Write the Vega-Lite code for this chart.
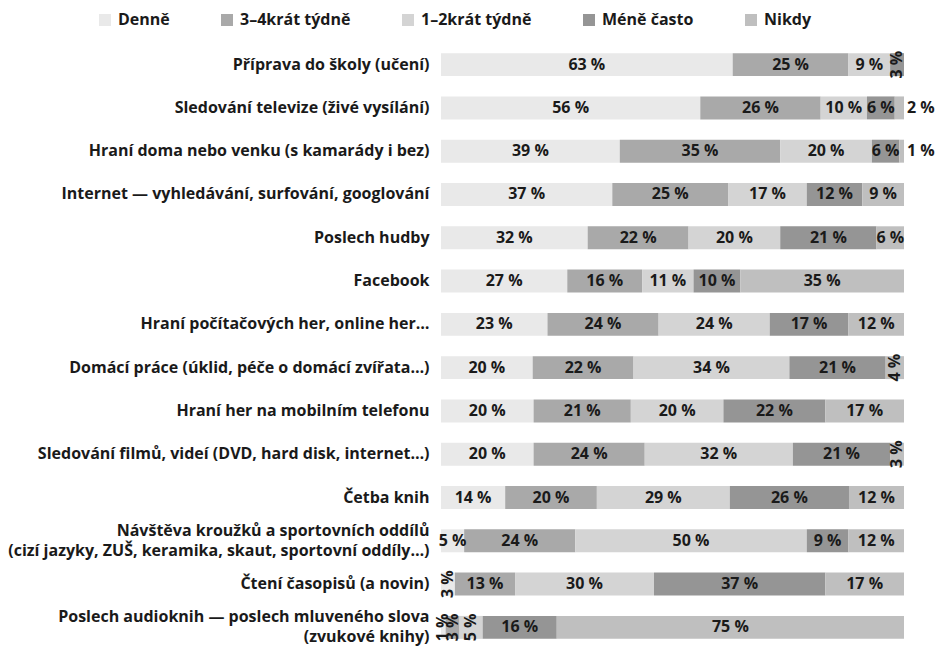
{
  "$schema": "https://vega.github.io/schema/vega-lite/v6.json",
  "autosize": "none",
  "width": 463,
  "height": 600,
  "padding": {"left": 441, "top": 46, "right": 32, "bottom": 1},
  "background": "white",
  "config": {
    "view": {"stroke": null},
    "font": "Open Sans",
    "text": {"font": "Open Sans", "fontWeight": "bold", "fontSize": 16, "color": "#1a1a1a"}
  },
  "data": {
    "values": [
      {"a": "Příprava do školy (učení)", "c": "Denně", "k": 1, "v": 63},
      {"a": "Příprava do školy (učení)", "c": "3–4krát týdně", "k": 2, "v": 25},
      {"a": "Příprava do školy (učení)", "c": "1–2krát týdně", "k": 3, "v": 9},
      {"a": "Příprava do školy (učení)", "c": "Méně často", "k": 4, "v": 3},
      {"a": "Příprava do školy (učení)", "c": "Nikdy", "k": 5, "v": 0},
      {"a": "Sledování televize (živé vysílání)", "c": "Denně", "k": 1, "v": 56},
      {"a": "Sledování televize (živé vysílání)", "c": "3–4krát týdně", "k": 2, "v": 26},
      {"a": "Sledování televize (živé vysílání)", "c": "1–2krát týdně", "k": 3, "v": 10},
      {"a": "Sledování televize (živé vysílání)", "c": "Méně často", "k": 4, "v": 6},
      {"a": "Sledování televize (živé vysílání)", "c": "Nikdy", "k": 5, "v": 2},
      {"a": "Hraní doma nebo venku (s kamarády i bez)", "c": "Denně", "k": 1, "v": 39},
      {"a": "Hraní doma nebo venku (s kamarády i bez)", "c": "3–4krát týdně", "k": 2, "v": 35},
      {"a": "Hraní doma nebo venku (s kamarády i bez)", "c": "1–2krát týdně", "k": 3, "v": 20},
      {"a": "Hraní doma nebo venku (s kamarády i bez)", "c": "Méně často", "k": 4, "v": 6},
      {"a": "Hraní doma nebo venku (s kamarády i bez)", "c": "Nikdy", "k": 5, "v": 1},
      {"a": "Internet — vyhledávání, surfování, googlování", "c": "Denně", "k": 1, "v": 37},
      {"a": "Internet — vyhledávání, surfování, googlování", "c": "3–4krát týdně", "k": 2, "v": 25},
      {"a": "Internet — vyhledávání, surfování, googlování", "c": "1–2krát týdně", "k": 3, "v": 17},
      {"a": "Internet — vyhledávání, surfování, googlování", "c": "Méně často", "k": 4, "v": 12},
      {"a": "Internet — vyhledávání, surfování, googlování", "c": "Nikdy", "k": 5, "v": 9},
      {"a": "Poslech hudby", "c": "Denně", "k": 1, "v": 32},
      {"a": "Poslech hudby", "c": "3–4krát týdně", "k": 2, "v": 22},
      {"a": "Poslech hudby", "c": "1–2krát týdně", "k": 3, "v": 20},
      {"a": "Poslech hudby", "c": "Méně často", "k": 4, "v": 21},
      {"a": "Poslech hudby", "c": "Nikdy", "k": 5, "v": 6},
      {"a": "Facebook", "c": "Denně", "k": 1, "v": 27},
      {"a": "Facebook", "c": "3–4krát týdně", "k": 2, "v": 16},
      {"a": "Facebook", "c": "1–2krát týdně", "k": 3, "v": 11},
      {"a": "Facebook", "c": "Méně často", "k": 4, "v": 10},
      {"a": "Facebook", "c": "Nikdy", "k": 5, "v": 35},
      {"a": "Hraní počítačových her, online her…", "c": "Denně", "k": 1, "v": 23},
      {"a": "Hraní počítačových her, online her…", "c": "3–4krát týdně", "k": 2, "v": 24},
      {"a": "Hraní počítačových her, online her…", "c": "1–2krát týdně", "k": 3, "v": 24},
      {"a": "Hraní počítačových her, online her…", "c": "Méně často", "k": 4, "v": 17},
      {"a": "Hraní počítačových her, online her…", "c": "Nikdy", "k": 5, "v": 12},
      {"a": "Domácí práce (úklid, péče o domácí zvířata…)", "c": "Denně", "k": 1, "v": 20},
      {"a": "Domácí práce (úklid, péče o domácí zvířata…)", "c": "3–4krát týdně", "k": 2, "v": 22},
      {"a": "Domácí práce (úklid, péče o domácí zvířata…)", "c": "1–2krát týdně", "k": 3, "v": 34},
      {"a": "Domácí práce (úklid, péče o domácí zvířata…)", "c": "Méně často", "k": 4, "v": 21},
      {"a": "Domácí práce (úklid, péče o domácí zvířata…)", "c": "Nikdy", "k": 5, "v": 4},
      {"a": "Hraní her na mobilním telefonu", "c": "Denně", "k": 1, "v": 20},
      {"a": "Hraní her na mobilním telefonu", "c": "3–4krát týdně", "k": 2, "v": 21},
      {"a": "Hraní her na mobilním telefonu", "c": "1–2krát týdně", "k": 3, "v": 20},
      {"a": "Hraní her na mobilním telefonu", "c": "Méně často", "k": 4, "v": 22},
      {"a": "Hraní her na mobilním telefonu", "c": "Nikdy", "k": 5, "v": 17},
      {"a": "Sledování filmů, videí (DVD, hard disk, internet…)", "c": "Denně", "k": 1, "v": 20},
      {"a": "Sledování filmů, videí (DVD, hard disk, internet…)", "c": "3–4krát týdně", "k": 2, "v": 24},
      {"a": "Sledování filmů, videí (DVD, hard disk, internet…)", "c": "1–2krát týdně", "k": 3, "v": 32},
      {"a": "Sledování filmů, videí (DVD, hard disk, internet…)", "c": "Méně často", "k": 4, "v": 21},
      {"a": "Sledování filmů, videí (DVD, hard disk, internet…)", "c": "Nikdy", "k": 5, "v": 3},
      {"a": "Četba knih", "c": "Denně", "k": 1, "v": 14},
      {"a": "Četba knih", "c": "3–4krát týdně", "k": 2, "v": 20},
      {"a": "Četba knih", "c": "1–2krát týdně", "k": 3, "v": 29},
      {"a": "Četba knih", "c": "Méně často", "k": 4, "v": 26},
      {"a": "Četba knih", "c": "Nikdy", "k": 5, "v": 12},
      {"a": "Návštěva kroužků a sportovních oddílů\n(cizí jazyky, ZUŠ, keramika, skaut, sportovní oddíly…)", "c": "Denně", "k": 1, "v": 5},
      {"a": "Návštěva kroužků a sportovních oddílů\n(cizí jazyky, ZUŠ, keramika, skaut, sportovní oddíly…)", "c": "3–4krát týdně", "k": 2, "v": 24},
      {"a": "Návštěva kroužků a sportovních oddílů\n(cizí jazyky, ZUŠ, keramika, skaut, sportovní oddíly…)", "c": "1–2krát týdně", "k": 3, "v": 50},
      {"a": "Návštěva kroužků a sportovních oddílů\n(cizí jazyky, ZUŠ, keramika, skaut, sportovní oddíly…)", "c": "Méně často", "k": 4, "v": 9},
      {"a": "Návštěva kroužků a sportovních oddílů\n(cizí jazyky, ZUŠ, keramika, skaut, sportovní oddíly…)", "c": "Nikdy", "k": 5, "v": 12},
      {"a": "Čtení časopisů (a novin)", "c": "Denně", "k": 1, "v": 3},
      {"a": "Čtení časopisů (a novin)", "c": "3–4krát týdně", "k": 2, "v": 13},
      {"a": "Čtení časopisů (a novin)", "c": "1–2krát týdně", "k": 3, "v": 30},
      {"a": "Čtení časopisů (a novin)", "c": "Méně často", "k": 4, "v": 37},
      {"a": "Čtení časopisů (a novin)", "c": "Nikdy", "k": 5, "v": 17},
      {"a": "Poslech audioknih — poslech mluveného slova\n(zvukové knihy)", "c": "Denně", "k": 1, "v": 1},
      {"a": "Poslech audioknih — poslech mluveného slova\n(zvukové knihy)", "c": "3–4krát týdně", "k": 2, "v": 3},
      {"a": "Poslech audioknih — poslech mluveného slova\n(zvukové knihy)", "c": "1–2krát týdně", "k": 3, "v": 5},
      {"a": "Poslech audioknih — poslech mluveného slova\n(zvukové knihy)", "c": "Méně často", "k": 4, "v": 16},
      {"a": "Poslech audioknih — poslech mluveného slova\n(zvukové knihy)", "c": "Nikdy", "k": 5, "v": 75}
    ]
  },
  "encoding": {
    "y": {
      "field": "a", "type": "nominal", "sort": null,
      "scale": {"paddingInner": 0.47, "paddingOuter": 0.165},
      "axis": {
        "title": null, "domain": false, "ticks": false, "labelPadding": 12,
        "labelFont": "Open Sans", "labelFontWeight": "bold", "labelFontSize": 16,
        "labelColor": "#1a1a1a", "labelLimit": 0, "labelLineHeight": 20,
        "labelOffset": {"condition": {"test": "indexof(datum.value, '\\n') >= 0", "value": -10}, "value": 0},
        "labelExpr": "split(datum.label, '\\n')"
      }
    },
    "x": {
      "field": "v", "type": "quantitative", "stack": "normalize",
      "axis": null, "scale": {"domain": [0, 1], "nice": false}
    },
    "order": {"field": "k", "type": "quantitative"}
  },
  "layer": [
    {
      "mark": {"type": "bar"},
      "encoding": {
        "color": {
          "field": "c", "type": "nominal",
          "scale": {
            "domain": ["Denně", "3–4krát týdně", "1–2krát týdně", "Méně často", "Nikdy"],
            "range": ["#e9e9e9", "#a9a9a9", "#d4d4d4", "#959595", "#bfbfbf"]
          },
          "legend": {
            "title": null, "orient": "none", "direction": "horizontal",
            "legendX": -344, "legendY": -34,
            "symbolType": "square", "symbolSize": 144, "symbolStrokeWidth": 0,
            "labelFont": "Open Sans", "labelFontWeight": "bold", "labelFontSize": 16,
            "labelColor": "#1a1a1a", "labelOffset": 5, "columnPadding": 49
          }
        }
      }
    },
    {
      "mark": {
        "type": "text", "align": "center", "baseline": "middle",
        "text": {"expr": "(datum.v >= 6 || (datum.v == 5 && datum.c == 'Denně')) ? datum.v + ' %' : ''"}
      },
      "encoding": {
        "x": {"field": "v", "type": "quantitative", "stack": "normalize", "bandPosition": 0.5},
        "detail": {"field": "c"}
      }
    },
    {
      "mark": {
        "type": "text", "align": "center", "baseline": "middle", "angle": 270,
        "text": {"expr": "(datum.v > 0 && datum.v <= 5 && !(datum.v == 5 && datum.c == 'Denně') && !(datum.c == 'Nikdy' && datum.v <= 2)) ? datum.v + ' %' : ''"}
      },
      "encoding": {
        "x": {"field": "v", "type": "quantitative", "stack": "normalize", "bandPosition": 0.5},
        "detail": {"field": "c"}
      }
    },
    {
      "mark": {
        "type": "text", "align": "left", "baseline": "middle", "dx": 3,
        "text": {"expr": "(datum.c == 'Nikdy' && datum.v > 0 && datum.v <= 2) ? datum.v + ' %' : ''"}
      },
      "encoding": {
        "x": {"field": "v", "type": "quantitative", "stack": "normalize"},
        "detail": {"field": "c"}
      }
    }
  ]
}
